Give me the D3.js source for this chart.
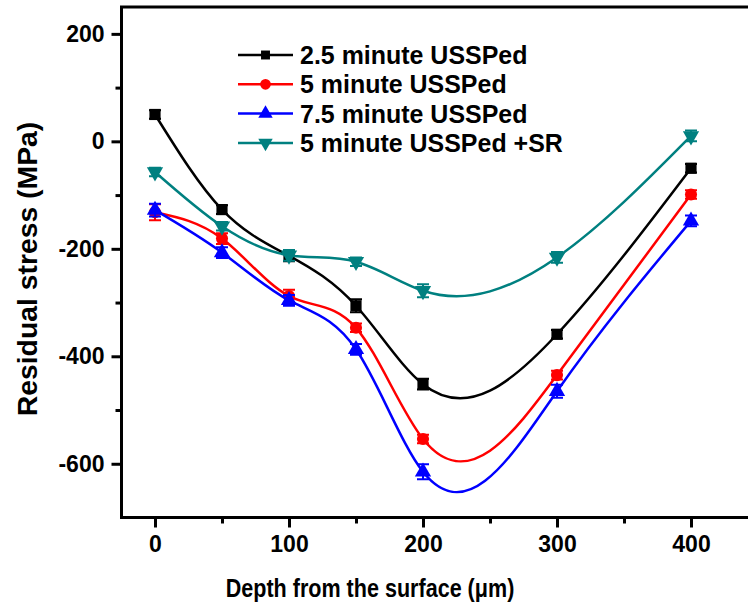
<!DOCTYPE html>
<html>
<head>
<meta charset="utf-8">
<script src="https://cdn.jsdelivr.net/npm/d3@7"></script>
<style>
  body { margin: 0; background: #fff; }
  svg { display: block; font-family: Arial, "Liberation Sans", sans-serif; font-weight: bold; }
</style>
</head>
<body>
<div id="chart"></div>
<script>
var depths = [0, 50, 100, 150, 200, 300, 400];
var seriesNames = ["2.5 minute USSPed", "5 minute USSPed", "7.5 minute USSPed", "5 minute USSPed +SR"];
var stress25 = [50, -127, -213, -306, -452, -359, -50];
var stress5 = [-132, -181, -288, -347, -554, -435, -99];
var stress75 = [-128, -207, -296, -387, -615, -465, -148];
var stress5SR = [-57, -158, -212, -224, -278, -216, 10];
var err25 = [8, 8, 10, 12, 10, 8, 8];
var err5 = [15, 10, 12, 8, 8, 8, 8];
var err75 = [12, 10, 10, 10, 14, 12, 10];
var err5SR = [8, 8, 10, 8, 12, 10, 10];
var xTicks = [0, 100, 200, 300, 400];
var xMinor = [50, 150, 250, 350];
var yTicks = [200, 0, -200, -400, -600];
var yMinor = [100, -100, -300, -500];

// natural cubic spline in x (like Origin's "spline" connector), as a d3 curve
function SplineX(context) { this._context = context; }
SplineX.prototype = {
    areaStart: function() { this._line = 0; },
    areaEnd: function() { this._line = NaN; },
    lineStart: function() { this._x = []; this._y = []; },
    point: function(x, y) { this._x.push(+x); this._y.push(+y); },
    lineEnd: function() {
        var xs = this._x, ys = this._y, n = xs.length, c = this._context;
        if (!n) return;
        c.moveTo(xs[0], ys[0]);
        if (n < 3) { for (var k = 1; k < n; k++) c.lineTo(xs[k], ys[k]); return; }
        var hh = [], i;
        for (i = 0; i < n - 1; i++) hh.push(xs[i + 1] - xs[i]);
        // solve for second derivatives, natural ends
        var a = [], b = [], cc = [], r = [];
        for (i = 1; i < n - 1; i++) {
            a.push(hh[i - 1]); b.push(2 * (hh[i - 1] + hh[i])); cc.push(hh[i]);
            r.push(6 * ((ys[i + 1] - ys[i]) / hh[i] - (ys[i] - ys[i - 1]) / hh[i - 1]));
        }
        var m = r.length;
        for (i = 1; i < m; i++) {
            var f = a[i] / b[i - 1];
            b[i] -= f * cc[i - 1];
            r[i] -= f * r[i - 1];
        }
        var M = new Array(n).fill(0);
        M[m] = r[m - 1] / b[m - 1];
        for (i = m - 2; i >= 0; i--) M[i + 1] = (r[i] - cc[i] * M[i + 2]) / b[i];
        for (i = 0; i < n - 1; i++) {
            var h = hh[i], s = (ys[i + 1] - ys[i]) / h;
            var m0 = s - h * (2 * M[i] + M[i + 1]) / 6;
            var m1 = s + h * (M[i] + 2 * M[i + 1]) / 6;
            c.bezierCurveTo(xs[i] + h / 3, ys[i] + m0 * h / 3,
                            xs[i + 1] - h / 3, ys[i + 1] - m1 * h / 3,
                            xs[i + 1], ys[i + 1]);
        }
    }
};
function curveSplineX(context) { return new SplineX(context); }

function init() {
    var w = 748, h = 608;
    var colors = ["#000000", "#ff0000", "#0000ff", "#008080"];
    var symbols = [d3.symbolSquare, d3.symbolCircle, d3.symbolTriangle, d3.symbolTriangle];
    var values = [stress25, stress5, stress75, stress5SR];
    var errs = [err25, err5, err75, err5SR];

    var svg = d3.select("#chart").append("svg")
        .attr("width", w)
        .attr("height", h);

    // scales (right end of the frame runs past the picture)
    var x = d3.scaleLinear().domain([-25, 450]).range([121.5, 758]);
    var y = d3.scaleLinear().domain([-700, 250]).range([517.5, 7]);

    // frame: left, bottom, top
    svg.append("path")
        .attr("d", `M${x(450)},${y(250)}H${x(-25)}V${y(-700)}H${x(450)}`)
        .attr("fill", "none")
        .attr("stroke", "#000")
        .attr("stroke-width", 3);

    // axes
    var xAxis = svg.append("g")
        .attr("transform", `translate(0,${y(-700)})`)
        .call(d3.axisBottom(x).tickValues(xTicks).tickSize(10).tickPadding(8).tickFormat(d => String(d)));
    var xAxisMinor = svg.append("g")
        .attr("transform", `translate(0,${y(-700)})`)
        .call(d3.axisBottom(x).tickValues(xMinor).tickSize(6).tickFormat(""));
    var yAxis = svg.append("g")
        .attr("transform", `translate(${x(-25)},0)`)
        .call(d3.axisLeft(y).tickValues(yTicks).tickSize(10).tickPadding(7).tickFormat(d => String(d)));
    var yAxisMinor = svg.append("g")
        .attr("transform", `translate(${x(-25)},0)`)
        .call(d3.axisLeft(y).tickValues(yMinor).tickSize(6).tickFormat(""));

    [xAxis, xAxisMinor, yAxis, yAxisMinor].forEach(function(g) {
        g.select(".domain").remove();
        g.selectAll(".tick line").attr("stroke", "#000").attr("stroke-width", 3);
        g.selectAll(".tick text")
            .attr("fill", "#000")
            .attr("font-size", "23px")
            .attr("font-weight", "bold")
            .attr("font-family", "Arial, 'Liberation Sans', sans-serif");
    });

    // curves
    var line = d3.line()
        .x(d => x(d[0]))
        .y(d => y(d[1]))
        .curve(curveSplineX);

    values.forEach(function(vals, i) {
        var pts = depths.map((d, j) => [d, vals[j], errs[i][j]]);
        var g = svg.append("g");
        g.append("path")
            .datum(pts)
            .attr("d", line)
            .attr("fill", "none")
            .attr("stroke", colors[i])
            .attr("stroke-width", 2.5);

        // error bars
        g.selectAll(".err")
            .data(pts)
            .enter()
            .append("path")
            .attr("d", d => `M${x(d[0]) - 6},${y(d[1] + d[2])}h12M${x(d[0])},${y(d[1] + d[2])}V${y(d[1] - d[2])}M${x(d[0]) - 6},${y(d[1] - d[2])}h12`)
            .attr("fill", "none")
            .attr("stroke", colors[i])
            .attr("stroke-width", 2);

        // markers
        var sym = d3.symbol().type(symbols[i]).size(i == 0 ? 125 : 115);
        g.selectAll(".mk")
            .data(pts)
            .enter()
            .append("path")
            .attr("d", sym)
            .attr("transform", d => `translate(${x(d[0])},${y(d[1])})` + (i == 3 ? " rotate(180)" : ""))
            .attr("fill", colors[i]);
    });

    // legend
    var legend = svg.append("g");
    seriesNames.forEach(function(name, i) {
        var ly = 55 + i * 29.3;
        legend.append("line")
            .attr("x1", 238).attr("x2", 293)
            .attr("y1", ly).attr("y2", ly)
            .attr("stroke", colors[i])
            .attr("stroke-width", 2.5);
        legend.append("path")
            .attr("d", d3.symbol().type(symbols[i]).size(i == 0 ? 80 : 90))
            .attr("transform", `translate(265.5,${ly})` + (i == 3 ? " rotate(180)" : ""))
            .attr("fill", colors[i]);
        legend.append("text")
            .attr("transform", `translate(300,${ly}) scale(1.04,1.05)`)
            .attr("dy", "0.36em")
            .attr("font-size", "24px")
            .attr("fill", "#000")
            .text(name);
    });

    // axis titles
    svg.append("text")
        .attr("transform", "translate(370,597) scale(0.98,1.15)")
        .attr("text-anchor", "middle")
        .attr("font-size", "22px")
        .attr("fill", "#000")
        .text("Depth from the surface (\u03bcm)");

    svg.append("text")
        .attr("transform", "translate(37,269) rotate(-90) scale(1.05,1)")
        .attr("text-anchor", "middle")
        .attr("font-size", "27px")
        .attr("fill", "#000")
        .text("Residual stress (MPa)");
}

window.onload = init;
</script>
</body>
</html>
